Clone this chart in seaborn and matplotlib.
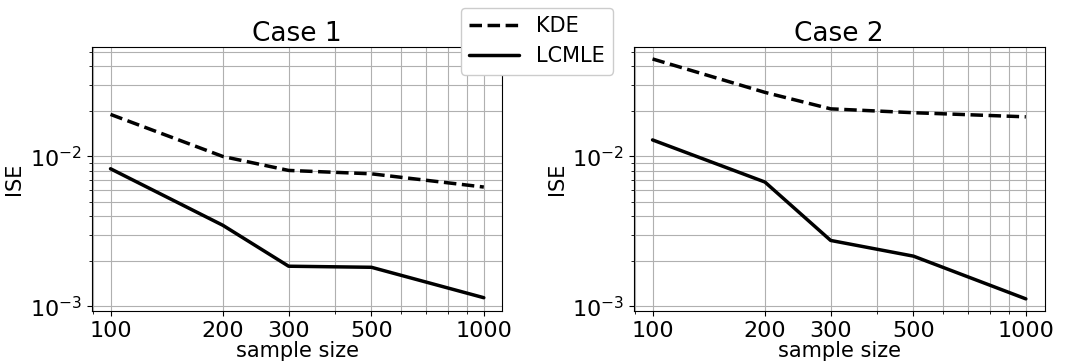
import pandas as pd
import matplotlib
matplotlib.use('Agg')
import matplotlib.pyplot as plt
import matplotlib.ticker as mticker
import seaborn as sns

# Data ISE per ukuran sampel
sample_size = [100, 200, 300, 500, 1000]
case1_kde = [0.0191, 0.0100, 0.00807, 0.00766, 0.00625]
case1_lcmle = [0.00828, 0.00347, 0.00185, 0.00182, 0.00114]
case2_kde = [0.0448, 0.0268, 0.0208, 0.0196, 0.0184]
case2_lcmle = [0.0129, 0.00675, 0.00275, 0.00216, 0.00112]

methods = ['KDE', 'LCMLE']
cases = {
    'Case 1': [case1_kde, case1_lcmle],
    'Case 2': [case2_kde, case2_lcmle],
}

sns.set_style('ticks')
plt.rcParams['font.family'] = ['DejaVu Sans']
plt.rcParams['font.size'] = 15
plt.rcParams.update({'text.color': 'black', 'axes.labelcolor': 'black',
                     'xtick.color': 'black', 'ytick.color': 'black',
                     'axes.edgecolor': 'black'})

fig, axes = plt.subplots(1, 2, figsize=(10.68, 3.64), dpi=100)
axes[1].sharey(axes[0])
fig.subplots_adjust(left=0.086, right=0.978, bottom=0.146, top=0.871, wspace=0.32)

for ax, (title, series) in zip(axes, cases.items()):
    rows = []
    for m, vals in zip(methods, series):
        for n, v in zip(sample_size, vals):
            rows.append({'sample size': n, 'ISE': v, 'method': m})
    df = pd.DataFrame(rows)
    sns.lineplot(data=df, x='sample size', y='ISE', style='method',
                 style_order=methods, dashes={'KDE': (3.6, 1.6), 'LCMLE': ''},
                 color='black', linewidth=2.5, ax=ax, legend=(ax is axes[0]))
    ax.set_xscale('log')
    ax.set_yscale('log')
    ax.set_xticks(sample_size)
    ax.xaxis.set_major_formatter(mticker.FixedFormatter([str(n) for n in sample_size]))
    ax.xaxis.set_minor_formatter(mticker.NullFormatter())
    ax.grid(True, which='both', color='#b0b0b0', linewidth=0.8)
    ax.set_axisbelow(True)
    ax.set_title(title, fontsize=19, pad=4, color='black')
    ax.set_xlabel('sample size', fontsize=15, labelpad=0)
    ax.set_ylabel('ISE', fontsize=15)
    ax.tick_params(labelsize=16, colors='black')

handles, labels = axes[0].get_legend_handles_labels()
axes[0].get_legend().remove()
fig.legend(handles, labels, loc='upper center', bbox_to_anchor=(0.503, 1.008),
           fontsize=15, handlelength=2.4, framealpha=1)

fig.savefig('out.png', dpi=100)
